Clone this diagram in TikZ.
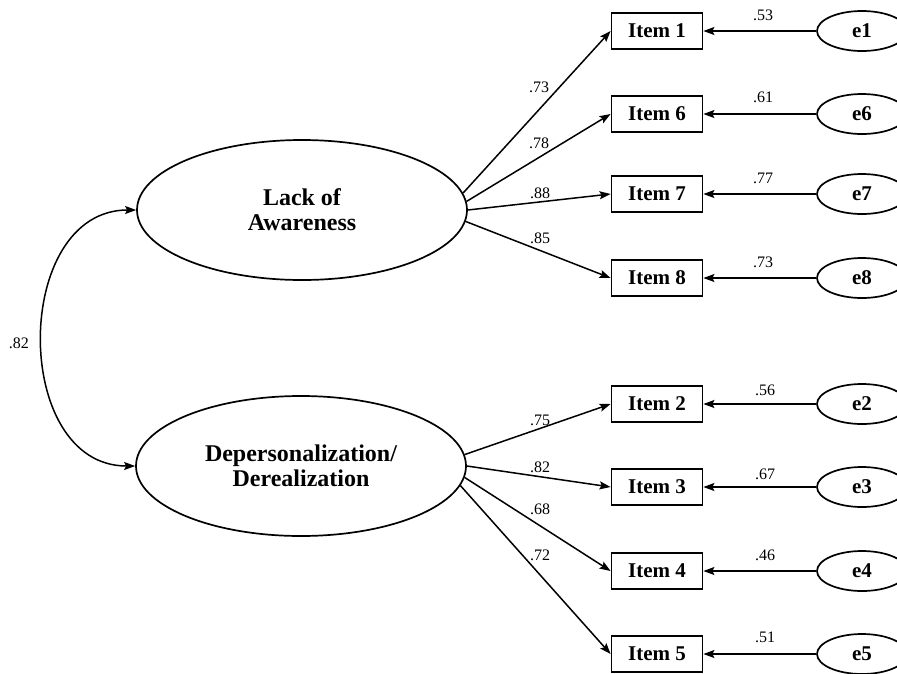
\documentclass[tikz,border=0pt]{standalone}
\usepackage{fontspec}
\setmainfont{Liberation Serif}
\usetikzlibrary{arrows.meta,shapes.geometric}
\begin{document}
\begin{tikzpicture}[x=1pt,y=-1pt,
  latent/.style={ellipse,draw,line width=1.7pt,minimum width=330pt,minimum height=140pt,
    inner sep=0pt,align=center,font=\fontsize{24}{25}\selectfont\bfseries},
  itembox/.style={rectangle,draw,line width=1.8pt,minimum width=91pt,minimum height=36pt,
    inner sep=0pt,font=\fontsize{21}{24}\selectfont\bfseries},
  errnode/.style={ellipse,draw,line width=1.7pt,minimum width=90pt,minimum height=40pt,
    inner sep=0pt,font=\fontsize{21}{24}\selectfont\bfseries},
  tip/.tip={Stealth[length=11pt,width=8pt,inset=2pt]},
  load/.style={line width=1.5pt,-tip},
  coef/.style={inner sep=0pt,font=\fontsize{16}{18}\selectfont}
]
\useasboundingbox (0,0) rectangle (897,673);
\fill[white] (0,0) rectangle (897,673);

% latent factors
\node[latent] (LA) at (302,210) {Lack of\\Awareness};
\node[latent] (DD) at (301,466) {Depersonalization/\\Derealization};

% observed items
\node[itembox] (i1) at (657,31)  {Item 1};
\node[itembox] (i6) at (657,114) {Item 6};
\node[itembox] (i7) at (657,194) {Item 7};
\node[itembox] (i8) at (657,278) {Item 8};
\node[itembox] (i2) at (657,404) {Item 2};
\node[itembox] (i3) at (657,487) {Item 3};
\node[itembox] (i4) at (657,571) {Item 4};
\node[itembox] (i5) at (657,654) {Item 5};

% error terms
\node[errnode] (e1) at (862,31)  {e1};
\node[errnode] (e6) at (862,114) {e6};
\node[errnode] (e7) at (862,194) {e7};
\node[errnode] (e8) at (862,278) {e8};
\node[errnode] (e2) at (862,404) {e2};
\node[errnode] (e3) at (862,487) {e3};
\node[errnode] (e4) at (862,571) {e4};
\node[errnode] (e5) at (862,654) {e5};

% factor loadings
\draw[load] (LA.6)  -- (i1.west);
\draw[load] (LA.3)  -- (i6.west);
\draw[load] (LA.0)  -- (i7.west);
\draw[load] (LA.-4) -- (i8.west);
\draw[load] (DD.4)  -- (i2.west);
\draw[load] (DD.0)  -- (i3.west);
\draw[load] (DD.-4) -- (i4.west);
\draw[load] (DD.-7) -- (i5.west);

% error paths
\foreach \k in {1,6,7,8,2,3,4,5}
  \draw[load] (e\k) -- (i\k);

% factor covariance
\draw[line width=1.5pt,tip-tip] (LA.west) to[out=180,in=180,looseness=1.24] (DD.west);

% coefficients
\node[coef] (c82) at (19,343) {.82};
\node[coef] (l1) at (539,87)  {.73};
\node[coef] (l6) at (539,143) {.78};
\node[coef] (l7) at (540,193) {.88};
\node[coef] (l8) at (540,238) {.85};
\node[coef] (l2) at (540,420) {.75};
\node[coef] (l3) at (540,467) {.82};
\node[coef] (l4) at (540,509) {.68};
\node[coef] (l5) at (540,555) {.72};
\node[coef] (r1) at (763,15)  {.53};
\node[coef] (r6) at (763,97)  {.61};
\node[coef] (r7) at (763,178) {.77};
\node[coef] (r8) at (763,262) {.73};
\node[coef] (r2) at (765,390) {.56};
\node[coef] (r3) at (765,474) {.67};
\node[coef] (r4) at (765,555) {.46};
\node[coef] (r5) at (765,637) {.51};
\end{tikzpicture}
\end{document}
